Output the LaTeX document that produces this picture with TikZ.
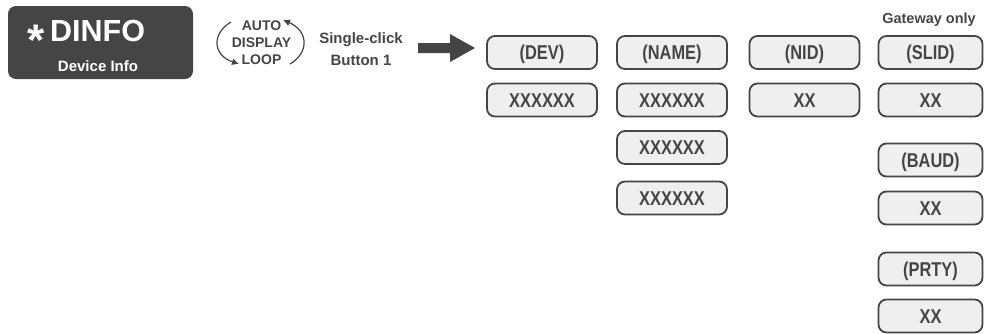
\documentclass[tikz,border=0pt]{standalone}
\usepackage{amsmath}
\usepackage{fontspec}
\setmainfont{Liberation Sans}
\newfontfamily\narrowfont{Liberation Sans}[FakeStretch=0.82]
\usepackage{tikz}
\usetikzlibrary{arrows.meta}
\definecolor{darkgray}{HTML}{454545}
\definecolor{boxfill}{HTML}{EFEFEF}
\tikzset{
  menubox/.style={draw=darkgray,fill=boxfill,line width=1.8pt,rounded corners=8pt,
    minimum width=110pt,minimum height=33pt,inner sep=0pt,text=darkgray,
    text height=14.3pt,text depth=0pt,
    font=\fontsize{20}{22}\selectfont\narrowfont\bfseries},
  gwbox/.style={menubox,minimum width=104pt},
  lbl/.style={text=darkgray,inner sep=0pt,align=center,font=\bfseries}
}
\begin{document}
\begin{tikzpicture}[x=1pt,y=-1pt,line width=1.2pt]
\useasboundingbox (0,0) rectangle (984,333);
% menu title
\node[fill=darkgray,rounded corners=8pt,minimum width=185pt,minimum height=73pt] (dinfo) at (100.5,42.5) {};
\node[text=white,inner sep=0pt,font=\fontsize{30.5}{30}\selectfont\bfseries] (dtitle) at (86.5,37.5) {\raisebox{-0.46em}{\scalebox{1.45}{*}}\hspace{5pt}DINFO};
\node[text=white,inner sep=0pt,font=\fontsize{15}{15}\selectfont\bfseries] (dsub) at (98,66) {Device Info};
% loop hint
\node[lbl,font=\fontsize{14}{17}\selectfont\bfseries] (loop) at (261.5,43) {AUTO\\DISPLAY\\LOOP};
\draw[darkgray,-{Latex[length=7pt,width=7pt]}] (231,22) .. controls (212,33) and (212,55) .. (239,64);
\draw[darkgray,-{Latex[length=7pt,width=7pt]}] (290,64) .. controls (309,53) and (309,31) .. (283,20);
\node[lbl,font=\fontsize{15}{22}\selectfont\bfseries] (click) at (361,49) {Single-click\\Button 1};
% big arrow
\fill[darkgray] (418,43) -- (450,43) -- (450,34) -- (475,48) -- (450,62) -- (450,53) -- (418,53) -- cycle;
% columns
\node[menubox] (dev) at (542,52.5) {(DEV)};
\node[menubox] (devval) at (542,100) {XXXXXX};
\node[menubox] (name) at (672,52.5) {(NAME)};
\node[menubox] (nameval1) at (672,100) {XXXXXX};
\node[menubox] (nameval2) at (672,147.5) {XXXXXX};
\node[menubox] (nameval3) at (672,198) {XXXXXX};
\node[menubox] (nid) at (804.5,52.5) {(NID)};
\node[menubox] (nidval) at (804.5,100) {XX};
\node[lbl,font=\fontsize{14.5}{15}\selectfont\bfseries] (gwonly) at (929,19.5) {Gateway only};
\node[gwbox] (slid) at (930.5,52.5) {(SLID)};
\node[gwbox] (slidval) at (930.5,100) {XX};
\node[gwbox] (baud) at (930.5,160) {(BAUD)};
\node[gwbox] (baudval) at (930.5,208) {XX};
\node[gwbox] (prty) at (930.5,269) {(PRTY)};
\node[gwbox] (prtyval) at (930.5,316) {XX};
\end{tikzpicture}
\end{document}
